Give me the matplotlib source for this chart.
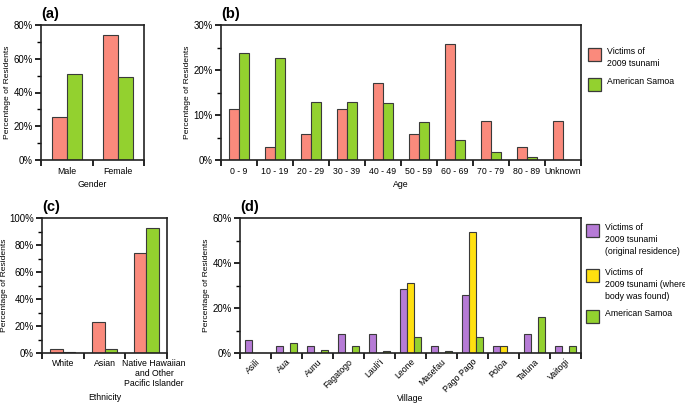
import numpy as np
import matplotlib
matplotlib.use('Agg')
import matplotlib.pyplot as plt
import matplotlib.transforms as mtransforms
from matplotlib.ticker import FixedLocator, MultipleLocator, PercentFormatter
from matplotlib.patches import Rectangle

plt.rcParams['font.family'] = ['Liberation Sans', 'DejaVu Sans']
plt.rcParams['font.size'] = 6.3

RED = '#fa8a7c'
GREEN = '#93d12f'
PURPLE = '#b67bd6'
YELLOW = '#ffe010'
EDGE = '#3a3a3a'

# (a) gender
gender = ['Male', 'Female']
gender_victims = [25.7, 74.3]
gender_samoa = [51.0, 49.0]

# (b) age
age = ['0 - 9', '10 - 19', '20 - 29', '30 - 39', '40 - 49', '50 - 59',
       '60 - 69', '70 - 79', '80 - 89', 'Unknown']
age_victims = [11.4, 2.9, 5.7, 11.4, 17.1, 5.7, 25.7, 8.6, 2.9, 8.6]
age_samoa = [23.7, 22.6, 13.0, 12.8, 12.6, 8.5, 4.4, 1.7, 0.6, 0.0]

# (c) ethnicity
ethnicity = ['White', 'Asian', 'Native Hawaiian\nand Other\nPacific Islander']
eth_victims = [2.9, 22.9, 74.3]
eth_samoa = [0.9, 3.0, 92.6]

# (d) village
village = ['Asili', 'Aua', 'Aunu', 'Fagatogo', "Lauli'i", 'Leone', 'Masefau',
           'Pago Pago', 'Poloa', 'Tafuna', 'Vaitogi']
vil_residence = [5.7, 2.9, 2.9, 8.6, 8.6, 28.6, 2.9, 25.7, 2.9, 8.6, 2.9]
vil_found = [0, 0, 0, 0, 0, 31.0, 0, 54.0, 3.2, 0, 0]
vil_samoa = [0, 4.3, 1.2, 3.2, 1.1, 7.2, 1.0, 7.0, 0, 16.1, 3.2]

legend_b = ['Victims of\n2009 tsunami', 'American Samoa']
legend_d = ['Victims of\n2009 tsunami\n(original residence)',
            'Victims of\n2009 tsunami (where\nbody was found)',
            'American Samoa']

W, H = 685, 404


def axes_px(fig, left, top, right, bottom):
    return fig.add_axes([left / W, 1 - bottom / H, (right - left) / W, (bottom - top) / H])


def style(ax, n, ymax, major, xlabel, label, ylabelpad=2, xlabelpad=3):
    ax.set_xlim(-0.5, n - 0.5)
    ax.set_ylim(0, ymax)
    ax.yaxis.set_major_locator(MultipleLocator(major))
    ax.yaxis.set_minor_locator(MultipleLocator(major / 2))
    ax.yaxis.set_major_formatter(PercentFormatter(decimals=0))
    ax.xaxis.set_minor_locator(FixedLocator(np.arange(n + 1) - 0.5))
    ax.tick_params(axis='x', which='major', length=0, pad=5)
    ax.tick_params(axis='x', which='minor', length=4, width=1.2, direction='out')
    ax.tick_params(axis='y', which='major', length=4, width=1.2, pad=2, labelsize=6.9)
    ax.tick_params(axis='y', which='minor', length=3, width=1.0)
    for s in ax.spines.values():
        s.set_linewidth(1.2)
        s.set_color('#222222')
    ax.set_ylabel('Percentage of Residents', labelpad=ylabelpad, fontsize=6.1)
    ax.set_xlabel(xlabel, labelpad=xlabelpad)
    ax.text(0.0, 1.03, label, transform=ax.transAxes, fontsize=10.5,
            fontweight='bold', ha='left', va='bottom')


def pair(ax, cats, v1, v2, width):
    x = np.arange(len(cats))
    ax.bar(x - width / 2, v1, width, color=RED, edgecolor=EDGE, linewidth=0.8)
    ax.bar(x + width / 2, v2, width, color=GREEN, edgecolor=EDGE, linewidth=0.8)
    ax.set_xticks(x)
    ax.set_xticklabels(cats)


def side_legend(fig, x, tops, colors, labels):
    # handle box sits level with the first line of its label
    for top, col, lab in zip(tops, colors, labels):
        fig.add_artist(Rectangle((x / W, 1 - (top + 13) / H), 13 / W, 13 / H,
                                 facecolor=col, edgecolor=EDGE, linewidth=0.9,
                                 transform=fig.transFigure))
        fig.text((x + 19) / W, 1 - (top - 1) / H, lab, ha='left', va='top',
                 fontsize=6.3, linespacing=1.45)


fig = plt.figure(figsize=(W / 100, H / 100), dpi=100)

ax_a = axes_px(fig, 41, 25, 144, 160)
pair(ax_a, gender, gender_victims, gender_samoa, 0.29)
style(ax_a, len(gender), 80, 20, 'Gender', '(a)')

ax_b = axes_px(fig, 221, 25, 581, 160)
pair(ax_b, age, age_victims, age_samoa, 0.28)
style(ax_b, len(age), 30, 10, 'Age', '(b)')
side_legend(fig, 588, [48, 78], [RED, GREEN], legend_b)

ax_c = axes_px(fig, 42, 218, 167, 353)
pair(ax_c, ethnicity, eth_victims, eth_samoa, 0.3)
style(ax_c, len(ethnicity), 100, 20, 'Ethnicity', '(c)', ylabelpad=1)
ax_c.tick_params(axis='x', which='major', pad=4)
last = ax_c.get_xticklabels()[-1]
last.set_transform(last.get_transform() +
                   mtransforms.ScaledTranslation(8 / 100, 0, fig.dpi_scale_trans))

ax_d = axes_px(fig, 240, 218, 581, 353)
xd = np.arange(len(village))
wd = 0.22
ax_d.bar(xd - wd, vil_residence, wd, color=PURPLE, edgecolor=EDGE, linewidth=0.8)
ax_d.bar(xd, vil_found, wd, color=YELLOW, edgecolor=EDGE, linewidth=0.8)
ax_d.bar(xd + wd, vil_samoa, wd, color=GREEN, edgecolor=EDGE, linewidth=0.8)
ax_d.set_xticks(xd)
ax_d.set_xticklabels(village, rotation=45, ha='right', rotation_mode='anchor')
style(ax_d, len(village), 60, 20, 'Village', '(d)', xlabelpad=0)
ax_d.tick_params(axis='x', which='major', pad=3)
side_legend(fig, 586, [224, 269, 310], [PURPLE, YELLOW, GREEN], legend_d)

fig.savefig('out.png', dpi=100)
